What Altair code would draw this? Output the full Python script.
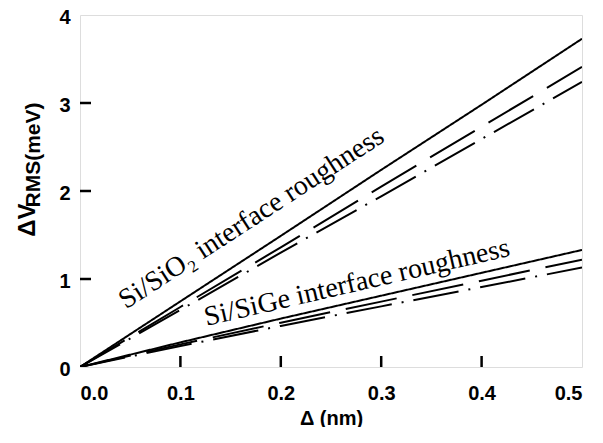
import altair as alt
import pandas as pd

# ---- data ----
delta_nm = [0.0, 0.1, 0.2, 0.3, 0.4, 0.5]

sio2_solid = [0.0, 0.746, 1.49, 2.24, 2.98, 3.73]
sio2_dashed = [0.0, 0.682, 1.36, 2.05, 2.73, 3.41]
sio2_dashdot = [0.0, 0.648, 1.30, 1.94, 2.59, 3.24]

sige_solid = [0.0, 0.28, 0.55, 0.81, 1.07, 1.33]
sige_dashed = [0.0, 0.257, 0.504, 0.743, 0.981, 1.22]
sige_dashdot = [0.0, 0.238, 0.467, 0.689, 0.909, 1.13]

x_ticks = [0.1, 0.2, 0.3, 0.4]
y_ticks = [1, 2, 3]

labels = ["Si/SiO\u2082 interface roughness", "Si/SiGe interface roughness"]
label_x = [0.171, 0.276]
label_y = [1.69, 0.955]
label_angle = [327, 347]

rows = []
for grp, series in [("SiO2", [("solid", sio2_solid), ("dashed", sio2_dashed), ("dashdot", sio2_dashdot)]),
                    ("SiGe", [("solid", sige_solid), ("dashed", sige_dashed), ("dashdot", sige_dashdot)])]:
    for style, vals in series:
        for xv, yv in zip(delta_nm, vals):
            rows.append({"x": xv, "y": yv, "style": style, "line": grp + style})
df = pd.DataFrame(rows)

W, H = 502, 352
xs = alt.Scale(domain=[0, 0.5], nice=False, zero=False)
ys = alt.Scale(domain=[0, 4], nice=False, zero=False)
SANS = "Liberation Sans"
SERIF = "Liberation Serif"

lines = alt.Chart(df).mark_line(strokeWidth=2, color="black", clip=True).encode(
    x=alt.X("x:Q", scale=xs,
            axis=alt.Axis(title="\u0394 (nm)", values=[0, 0.1, 0.2, 0.3, 0.4, 0.5], format=".1f",
                          ticks=False, domain=False, grid=False, labelPadding=16,
                          labelFont=SANS, labelFontWeight="bold", labelFontSize=20, labelColor="black",
                          titleFont=SANS, titleFontWeight="bold", titleFontSize=20, titleColor="black",
                          titlePadding=5)),
    y=alt.Y("y:Q", scale=ys,
            axis=alt.Axis(title=None, values=[0, 1, 2, 3, 4], format="d",
                          ticks=False, domain=False, grid=False, labelPadding=10, labelOffset=2,
                          labelFont=SANS, labelFontWeight="bold", labelFontSize=20, labelColor="black")),
    strokeDash=alt.StrokeDash("style:N",
                              scale=alt.Scale(domain=["solid", "dashed", "dashdot"],
                                              range=[[1, 0], [52, 16], [46, 10, 2, 10]]),
                              legend=None),
    detail="line:N",
)

xtick_df = pd.DataFrame({"x": x_ticks})
xt = alt.Chart(xtick_df).mark_rule(color="black", strokeWidth=2.5).encode(
    x=alt.X("x:Q", scale=xs), y=alt.value(H), y2=alt.value(H - 11))

ytick_df = pd.DataFrame({"y": y_ticks})
yt = alt.Chart(ytick_df).mark_rule(color="black", strokeWidth=2.5).encode(
    y=alt.Y("y:Q", scale=ys), x=alt.value(0), x2=alt.value(11))

lab_df = pd.DataFrame({"t": labels, "x": label_x, "y": label_y, "a": label_angle})
texts = alt.Chart(lab_df).mark_text(font=SERIF, fontSize=28, color="black",
                                     align="center", baseline="middle").encode(
    x=alt.X("x:Q", scale=xs), y=alt.Y("y:Q", scale=ys), text="t:N",
    angle=alt.Angle("a:Q", scale=None))

ytitle1 = alt.Chart(pd.DataFrame({"t": ["\u0394V"]})).mark_text(
    font=SANS, fontWeight="bold", fontSize=24, angle=270, align="center", baseline="middle",
    color="black").encode(text="t:N", x=alt.value(-52), y=alt.value(205))
ytitle2 = alt.Chart(pd.DataFrame({"t": ["RMS(meV)"]})).mark_text(
    font=SANS, fontWeight="bold", fontSize=21, angle=270, align="center", baseline="middle",
    color="black").encode(text="t:N", x=alt.value(-46), y=alt.value(140))

chart = alt.layer(lines, xt, yt, texts, ytitle1, ytitle2).properties(
    width=W, height=H,
    autosize=alt.AutoSizeParams(type="none"),
    padding={"left": 72, "top": 7, "right": 13, "bottom": 60},
).configure_view(stroke="black", strokeWidth=2.5).configure(background="white")

chart.save("out.html", embed_options={"renderer": "svg", "actions": False})
